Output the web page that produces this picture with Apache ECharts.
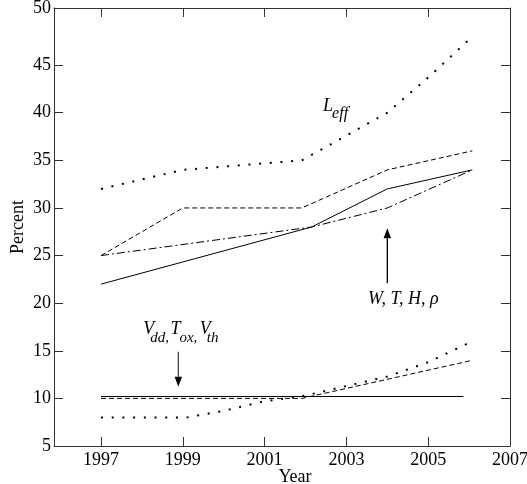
<!DOCTYPE html>
<html><head><meta charset="utf-8">
<script src="https://cdn.jsdelivr.net/npm/echarts@6/dist/echarts.min.js"></script>
<style>html,body{margin:0;padding:0;background:#fff}#c{width:527px;height:484px}</style>
</head><body><div id="c"></div>
<script>
// ---- data ----
const yearTicks = [1997, 1999, 2001, 2003, 2005, 2007];
const yearMinorTicks = [1997, 1999, 2001, 2003, 2005];
const percentTickLabels = [5, 10, 15, 20, 25, 30, 35, 40, 45, 50];
const percentInnerTicks = [10, 15, 20, 25, 30, 35, 40, 45];

const leffTop = [[1997, 32], [1999, 34], [2001.91, 35], [2003, 37.6], [2004, 40], [2005, 43.7], [2006.08, 48]];
const dashedTop = [[1997, 25], [1999, 30], [2001.91, 30], [2004, 34], [2006.08, 36]];
const solidTop = [[1997, 22], [2002.15, 28], [2004, 32], [2006.08, 34]];
const dashDotTop = [[1997, 25], [2002.15, 28], [2004, 30], [2006.08, 34]];
const solidBottom = [[1997, 10.2], [2005.86, 10.2]];
const dashedBottom = [[1997, 10], [2001.91, 10], [2006.08, 14]];
const dottedBottom = [[1997, 8], [1999.1, 8], [2000, 8.7], [2001, 9.7], [2002, 10.3], [2003, 11.3], [2004, 12.3], [2005, 13.8], [2006.08, 16]];

// annotations (data coordinates)
const leffLabelAt = [2002.43, 40.1];
const vddLabelAt = [1998.03, 16.66];
const wthLabelAt = [2003.53, 19.81];
const upArrow = [[2004, 22.09], [2004, 27.86]];
const downArrow = [[1998.89, 14.9], [1998.89, 11.23]];

// ---- layout ----
const X_MIN = 1995.85, X_MAX = 2007;
const Y_MIN = 5, Y_MAX = 51;
const FONT = '"Liberation Serif", "Times New Roman", serif';
const AXIS_COLOR = '#333';

const chart = echarts.init(document.getElementById('c'), null, { renderer: 'canvas' });

const yLabelValues = percentTickLabels.slice(0, -1).concat([Y_MAX]);

function xAxisCfg(pos, withLabels) {
  return {
    type: 'value', position: pos, min: X_MIN, max: X_MAX,
    axisLine: { show: true, lineStyle: { color: AXIS_COLOR, width: 1 } },
    axisTick: { show: true, inside: true, length: 9, customValues: yearMinorTicks, lineStyle: { color: AXIS_COLOR } },
    axisLabel: withLabels ? { show: true, customValues: yearTicks, fontFamily: FONT, fontSize: 18, color: '#000', margin: 5, formatter: v => String(v) } : { show: false },
    splitLine: { show: false },
    name: withLabels ? 'Year' : '',
    nameLocation: 'middle', nameGap: 22, nameMoveOverlap: false,
    nameTextStyle: { fontFamily: FONT, fontSize: 18, color: '#000', padding: [0, 0, 0, 26] }
  };
}
function yAxisCfg(pos, withLabels) {
  return {
    type: 'value', position: pos, min: Y_MIN, max: Y_MAX,
    axisLine: { show: true, lineStyle: { color: AXIS_COLOR, width: 1 } },
    axisTick: { show: true, inside: true, length: 9, customValues: percentInnerTicks, lineStyle: { color: AXIS_COLOR } },
    axisLabel: withLabels ? {
      show: true, customValues: yLabelValues, fontFamily: FONT, fontSize: 18, color: '#000', margin: 3,
      formatter: v => (v === Y_MAX ? String(percentTickLabels[percentTickLabels.length - 1]) : String(v))
    } : { show: false },
    splitLine: { show: false },
    name: withLabels ? 'Percent' : '',
    nameLocation: 'middle', nameGap: 27, nameRotate: 90, nameMoveOverlap: false,
    nameTextStyle: { fontFamily: FONT, fontSize: 18, color: '#000' }
  };
}

function lineSeries(data, type, width) {
  return {
    type: 'line', data: data, xAxisIndex: 0, yAxisIndex: 0,
    symbol: 'none', showSymbol: false, smooth: false, silent: true,
    lineStyle: { color: '#000', width: width, type: type, cap: 'butt' }
  };
}

const DOT = [2, 8.7];
const DASH = [5, 3];
const DASHDOT = [8, 3, 2, 3];

chart.setOption({
  animation: false,
  backgroundColor: '#fff',
  grid: { left: 54, right: 17, top: 8, bottom: 38, containLabel: false, outerBoundsMode: 'none' },
  xAxis: [xAxisCfg('bottom', true), xAxisCfg('top', false)],
  yAxis: [yAxisCfg('left', true), yAxisCfg('right', false)],
  series: [
    lineSeries(leffTop, DOT, 2),
    lineSeries(dashedTop, DASH, 1),
    lineSeries(solidTop, 'solid', 1),
    lineSeries(dashDotTop, DASHDOT, 1),
    lineSeries(solidBottom, 'solid', 1),
    lineSeries(dashedBottom, DASH, 1),
    lineSeries(dottedBottom, DOT, 2)
  ]
});

// ---- annotations placed through the chart's own scales ----
const toPx = p => chart.convertToPixel({ seriesIndex: 0 }, p);
const mctx = document.createElement('canvas').getContext('2d');
const elements = [];

function subLabel(anchor, parts, mainSize, subSize, subDrop) {
  let [x, y] = toPx(anchor);
  for (const p of parts) {
    const size = p.sub ? subSize : mainSize;
    const base = y + (p.sub ? subDrop : 0);
    const font = 'italic ' + size + 'px ' + FONT;
    x += (p.dx || 0);
    elements.push({
      type: 'text', silent: true,
      style: { text: p.t, x: x, y: base - 0.3 * size, font: font, fill: '#000', align: 'left', verticalAlign: 'middle' }
    });
    mctx.font = font;
    x += mctx.measureText(p.t).width;
  }
}
function arrow(seg, color) {
  const a = toPx(seg[0]), b = toPx(seg[1]);
  const dir = Math.sign(b[1] - a[1]);
  const headLen = 10, half = 3.7;
  elements.push({ type: 'line', silent: true, shape: { x1: a[0], y1: a[1], x2: b[0], y2: b[1] - dir * headLen }, style: { stroke: color, lineWidth: 1.3 } });
  elements.push({ type: 'polygon', silent: true, shape: { points: [[b[0], b[1]], [b[0] - half, b[1] - dir * headLen], [b[0] + half, b[1] - dir * headLen]] }, style: { fill: '#000' } });
}

subLabel(leffLabelAt, [{ t: 'L' }, { t: 'eff', sub: true, dx: -1 }], 18, 16, 6.5);
subLabel(vddLabelAt, [{ t: 'V' }, { t: 'dd,', sub: true, dx: -4 }, { t: 'T', dx: 1.5 }, { t: 'ox,', sub: true, dx: -1 }, { t: 'V', dx: 2.5 }, { t: 'th', sub: true, dx: -4 }], 18, 15, 8);
subLabel(wthLabelAt, [{ t: 'W, T, H, ρ' }], 18, 15, 0);
arrow(upArrow, '#000');
arrow(downArrow, '#444');

chart.setOption({ graphic: { elements: elements } });
</script>
</body></html>
